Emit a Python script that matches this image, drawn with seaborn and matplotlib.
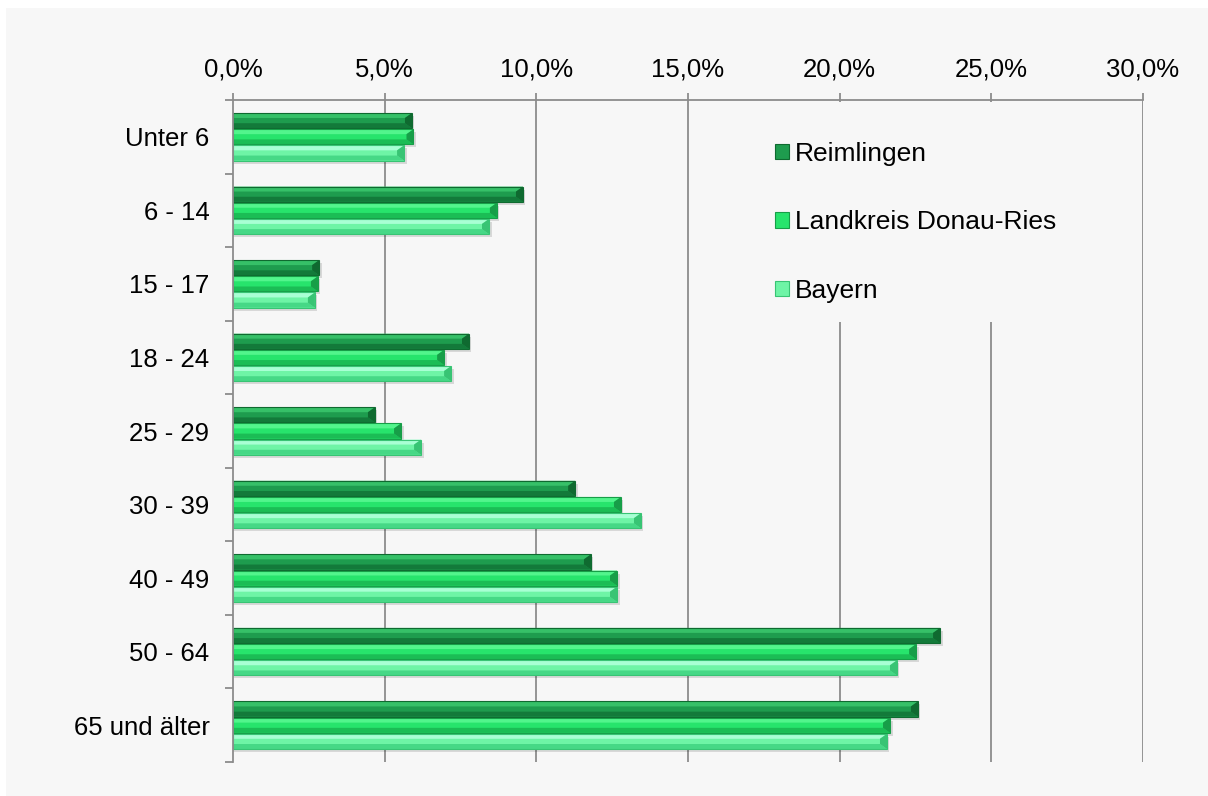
import matplotlib
matplotlib.use("Agg")
import matplotlib.pyplot as plt
from matplotlib.patches import Rectangle, Polygon, Patch
from matplotlib.ticker import FixedLocator
import numpy as np
import pandas as pd
import seaborn as sns

# Age groups and population shares (percent)
groups = ["Unter 6", "6 - 14", "15 - 17", "18 - 24", "25 - 29",
          "30 - 39", "40 - 49", "50 - 64", "65 und älter"]
reimlingen = [5.9, 9.56, 2.84, 7.78, 4.68, 11.28, 11.8, 23.31, 22.58]
landkreis = [5.95, 8.7, 2.8, 6.96, 5.54, 12.79, 12.66, 22.52, 21.66]
bayern = [5.64, 8.44, 2.7, 7.19, 6.2, 13.45, 12.66, 21.89, 21.56]
series_names = ["Reimlingen", "Landkreis Donau-Ries", "Bayern"]
tick_values = [0, 5, 10, 15, 20, 25, 30]
tick_labels = ["0,0%", "5,0%", "10,0%", "15,0%", "20,0%", "25,0%", "30,0%"]

# face, highlight, shade, outline for each series
face = ["#1e9c4e", "#27e46c", "#6ef4a6"]
light = ["#36c068", "#52f58c", "#a8ffd4"]
dark = ["#137a3a", "#1bbd55", "#46d886"]
edge = ["#0f6a30", "#179e48", "#38c474"]

rows = []
for name, vals in zip(series_names, [reimlingen, landkreis, bayern]):
    for g, v in zip(groups, vals):
        rows.append({"Altersgruppe": g, "Anteil": v, "Gebiet": name})
df = pd.DataFrame(rows)

sns.set_theme(style="white")
plt.rcParams["font.family"] = ["Liberation Sans", "DejaVu Sans"]

W, H = 1208, 796
bg = "#f7f7f7"
fig = plt.figure(figsize=(W / 100, H / 100), dpi=100, facecolor="white")
fig.patches.append(Rectangle((6 / W, 0), 1 - 6 / W, 1 - 8 / H,
                             transform=fig.transFigure, facecolor=bg,
                             edgecolor="none", zorder=-10))

left, right, top, bottom = 233, 1143, 100, 762
ax = fig.add_axes([left / W, 1 - bottom / H, (right - left) / W, (bottom - top) / H])
ax.set_facecolor("none")

sns.barplot(data=df, y="Altersgruppe", x="Anteil", hue="Gebiet", orient="h",
            order=groups, hue_order=series_names, palette=face, saturation=1,
            width=0.66, gap=0.06, legend=False, ax=ax, zorder=3,
            edgecolor="none")

ax.set_xlim(0, 30)
ax.set_ylim(len(groups) - 0.5, -0.5)

# bevel and shadow on each bar
px_x = 30 / (right - left)
px_y = len(groups) / (bottom - top)
bx, by = 7.0 * px_x, 5.0 * px_y
sx, sy = 2.5 * px_x, 3.0 * px_y
for i, container in enumerate(ax.containers):
    for p in container:
        x0, y0, w, h = p.get_x(), p.get_y(), p.get_width(), p.get_height()
        ax.add_patch(Rectangle((x0, y0 + sy), w + sx, h, facecolor="#000000",
                               alpha=0.12, edgecolor="none", zorder=2))
        ax.add_patch(Polygon([(x0, y0), (x0 + w, y0), (x0 + w - bx, y0 + by), (x0, y0 + by)],
                             closed=True, facecolor=light[i], edgecolor="none", zorder=4))
        ax.add_patch(Polygon([(x0, y0 + h), (x0 + w, y0 + h), (x0 + w - bx, y0 + h - by),
                              (x0, y0 + h - by)],
                             closed=True, facecolor=dark[i], edgecolor="none", zorder=4))
        ax.add_patch(Polygon([(x0 + w, y0), (x0 + w, y0 + h), (x0 + w - bx, y0 + h - by),
                              (x0 + w - bx, y0 + by)],
                             closed=True, facecolor=edge[i], edgecolor="none", zorder=4))
        ax.add_patch(Rectangle((x0, y0), w, h, facecolor="none", edgecolor=edge[i],
                               linewidth=0.8, zorder=5))

# axes styling
grid_color = "#8c8c8c"
for s in ["right", "bottom"]:
    ax.spines[s].set_visible(False)
for s in ["top", "left"]:
    ax.spines[s].set_color(grid_color)
    ax.spines[s].set_linewidth(1.3)
    ax.spines[s].set_zorder(7)
ax.xaxis.set_ticks_position("top")
ax.xaxis.set_label_position("top")
ax.set_xticks(tick_values)
ax.set_xticklabels(tick_labels, fontsize=18.5, color="#000000")
ax.tick_params(axis="x", direction="out", length=5, width=1.3, color=grid_color, pad=8)
ax.set_yticks(range(len(groups)))
ax.set_yticklabels(groups, fontsize=18.5, color="#000000")
ax.tick_params(axis="y", which="major", length=0, pad=17)
ax.yaxis.set_minor_locator(FixedLocator(np.arange(-0.5, len(groups), 1.0)))
ax.tick_params(axis="y", which="minor", direction="out", length=6, width=1.3,
               color=grid_color, left=True)
ax.set_xlabel("")
ax.set_ylabel("")
for v in tick_values[1:]:
    ax.axvline(v, color=grid_color, linewidth=1.3, zorder=1)

# legend panel hides the grid behind it
ax.add_patch(Rectangle((737 / W, 1 - 322 / H), (1095 - 737) / W, (322 - 102) / H,
                       transform=fig.transFigure, facecolor=bg,
                       edgecolor="none", zorder=1.5, clip_on=False))

handles = [Patch(facecolor=face[i], edgecolor=edge[i], linewidth=0.8) for i in range(3)]
leg = ax.legend(handles, series_names, loc="upper left",
                bbox_to_anchor=(775 / W, 1 - 142 / H), bbox_transform=fig.transFigure,
                fontsize=19, frameon=False, labelcolor="#000000",
                borderpad=0, labelspacing=1.68,
                handlelength=0.52, handleheight=0.52, handletextpad=0.25,
                borderaxespad=0)
leg.set_zorder(6)

fig.savefig("out.png", dpi=100, facecolor="white")
